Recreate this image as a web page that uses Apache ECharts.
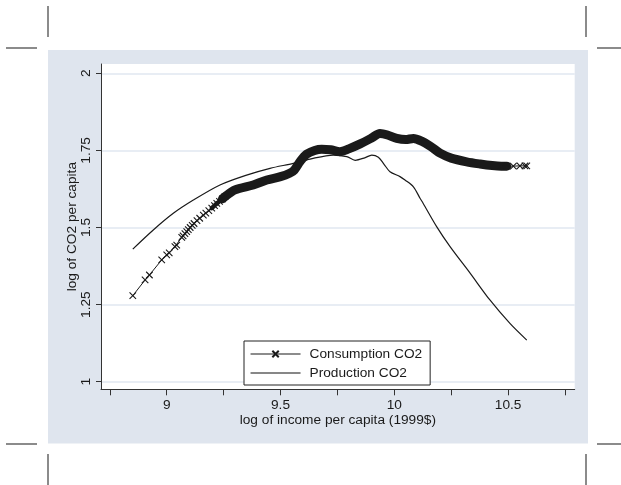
<!DOCTYPE html>
<html>
<head>
<meta charset="utf-8">
<script src="https://cdn.jsdelivr.net/npm/echarts@6/dist/echarts.min.js"></script>
<style>
html,body{margin:0;padding:0;background:#fff;}
#chart{width:621px;height:485px;}
</style>
</head>
<body>
<div id="chart"></div>
<script>
// ---- data ----
const seriesNames = ["Consumption CO2", "Production CO2"];

const consX = [8.851, 8.905, 8.924, 8.978, 9.000, 9.011, 9.036, 9.044, 9.066, 9.072, 9.080, 9.088,
  9.095, 9.103, 9.112, 9.120, 9.133, 9.145, 9.161, 9.172, 9.185, 9.198, 9.210, 9.220, 9.232, 9.245,
  9.256, 9.300, 9.380, 9.440, 9.500, 9.540, 9.560, 9.586, 9.615, 9.650, 9.681, 9.720, 9.761, 9.800,
  9.850, 9.900, 9.937, 9.970, 10.011, 10.050, 10.084, 10.120, 10.160, 10.201, 10.250, 10.318, 10.377,
  10.430, 10.470, 10.494, 10.523, 10.552, 10.574, 10.582];
const consY = [1.279, 1.330, 1.346, 1.395, 1.411, 1.418, 1.438, 1.443, 1.468, 1.473, 1.480, 1.487,
  1.493, 1.500, 1.507, 1.513, 1.522, 1.530, 1.540, 1.547, 1.555, 1.563, 1.571, 1.578, 1.585, 1.593,
  1.600, 1.622, 1.638, 1.654, 1.665, 1.676, 1.686, 1.714, 1.738, 1.750, 1.754, 1.752, 1.746, 1.755,
  1.771, 1.790, 1.805, 1.800, 1.789, 1.785, 1.789, 1.780, 1.763, 1.741, 1.725, 1.713, 1.706,
  1.701, 1.699, 1.699, 1.699, 1.700, 1.700, 1.700];

const prodX = [8.851, 8.941, 9.029, 9.117, 9.234, 9.351, 9.454, 9.556, 9.630, 9.732, 9.791, 9.828,
  9.870, 9.901, 9.930, 9.955, 9.981, 10.025, 10.047, 10.084, 10.113, 10.127, 10.186, 10.245, 10.333,
  10.420, 10.508, 10.582];
const prodY = [1.430, 1.492, 1.546, 1.589, 1.638, 1.670, 1.692, 1.708, 1.722, 1.735, 1.730, 1.718,
  1.726, 1.735, 1.728, 1.705, 1.681, 1.665, 1.654, 1.632, 1.595, 1.578, 1.503, 1.438, 1.352,
  1.265, 1.189, 1.135];

const xTicks = [8.75, 9, 9.25, 9.5, 9.75, 10, 10.25, 10.5, 10.75];
const xLabels = [9, 9.5, 10, 10.5];
const yTicks = [1, 1.25, 1.5, 1.75, 2];
const xTitle = "log of income per capita (1999$)";
const yTitle = "log of CO2 per capita";

// ---- build ----
const consPts = consX.map((x, i) => [x, consY[i]]);
const prodPts = prodX.map((x, i) => [x, prodY[i]]);
const sparsePts = consPts.filter(p => p[0] <= 9.26);
const midPts = consPts.filter(p => p[0] >= 9.198 && p[0] <= 9.30);
const densePts = consPts.filter(p => p[0] >= 9.245 && p[0] <= 10.50);
const tailPts = consPts.filter(p => p[0] >= 10.47);

const INK = '#1a1a1a';
const FONT = 'Liberation Sans, Arial, sans-serif';
const xMark = 'path://M0,0L10,10M10,0L0,10';
const plainLineIcon = 'path://M0,0L0.01,0L0.01,0.01Z M0,3.5L50,3.5L50,4.6L0,4.6Z M0,8L0.01,8L0.01,7.99Z';

const markerStyle = { color: INK, borderColor: INK, borderWidth: 1.1 };

function cropLine(x1, y1, x2, y2) {
  return { type: 'line', shape: { x1, y1, x2, y2 }, style: { stroke: '#6e6e6e', lineWidth: 1.6 }, silent: true };
}

const chart = echarts.init(document.getElementById('chart'), null, { renderer: 'canvas' });
chart.setOption({
  animation: false,
  backgroundColor: '#ffffff',
  graphic: [
    { type: 'rect', z: -10, shape: { x: 48, y: 50, width: 540, height: 393.5 }, style: { fill: '#dfe5ee' }, silent: true },
    cropLine(48, 6, 48, 37), cropLine(6, 48, 37, 48),
    cropLine(586, 6, 586, 37), cropLine(597, 48, 621, 48),
    cropLine(6, 444, 37, 444), cropLine(48, 454, 48, 485),
    cropLine(597, 444, 621, 444), cropLine(586, 454, 586, 485)
  ],
  grid: {
    left: 101, right: 46.3, top: 64, bottom: 95.7,
    show: true, backgroundColor: '#ffffff', borderWidth: 0
  },
  legend: {
    data: [
      { name: seriesNames[0], lineStyle: { width: 1.1, color: INK } },
      { name: seriesNames[1], icon: plainLineIcon, itemStyle: { color: '#111', borderWidth: 0 } }
    ],
    orient: 'vertical',
    left: 244, top: 341,
    backgroundColor: '#ffffff',
    borderColor: '#222', borderWidth: 1, borderRadius: 0,
    padding: [6, 8, 5, 6],
    itemWidth: 50, itemHeight: 8, itemGap: 5,
    textStyle: { fontFamily: FONT, fontSize: 13.7, color: INK, lineHeight: 14, padding: [0, 0, 0, 4] },
    selectedMode: false
  },
  xAxis: {
    type: 'value', min: 8.7113, max: 10.7926,
    name: xTitle, nameLocation: 'middle', nameGap: 24, nameMoveOverlap: false,
    nameTextStyle: { fontFamily: FONT, fontSize: 13.7, color: INK },
    axisLine: { show: true, onZero: false, lineStyle: { color: '#333', width: 1 } },
    axisTick: { show: true, inside: false, length: 6, customValues: xTicks, lineStyle: { color: '#333', width: 1 } },
    axisLabel: { customValues: xLabels, margin: 9, fontFamily: FONT, fontSize: 13.7, color: INK },
    splitLine: { show: false }
  },
  yAxis: {
    type: 'value', min: 0.9754, max: 2.0302,
    name: yTitle, nameLocation: 'middle', nameGap: 22, nameRotate: 90, nameMoveOverlap: false,
    nameTextStyle: { fontFamily: FONT, fontSize: 13.7, color: INK },
    axisLine: { show: true, onZero: false, lineStyle: { color: '#333', width: 1 } },
    axisTick: { show: true, inside: false, length: 5, customValues: yTicks, lineStyle: { color: '#333', width: 1 } },
    axisLabel: { customValues: yTicks, rotate: 90, margin: 8, fontFamily: FONT, fontSize: 13.7, color: INK },
    splitLine: { show: true, lineStyle: { color: '#e1e7f0', width: 1.6 } }
  },
  series: [
    {
      name: seriesNames[0], type: 'line', data: sparsePts,
      symbol: xMark, symbolSize: 6.5, showSymbol: true,
      lineStyle: { color: INK, width: 1 }, itemStyle: markerStyle, z: 3
    },
    {
      name: seriesNames[0], type: 'line', data: midPts, smooth: 0.3,
      symbol: 'none',
      lineStyle: { color: INK, width: 4.5, cap: 'round', join: 'round' }, itemStyle: markerStyle, z: 3
    },
    {
      name: seriesNames[0], type: 'line', data: densePts, smooth: 0.3,
      symbol: 'none',
      lineStyle: { color: INK, width: 9, cap: 'round', join: 'round' }, itemStyle: markerStyle, z: 3
    },
    {
      name: seriesNames[0], type: 'line', data: tailPts,
      symbol: xMark, symbolSize: 6.5, showSymbol: true,
      lineStyle: { color: INK, width: 1 }, itemStyle: markerStyle, z: 3
    },
    {
      name: seriesNames[1], type: 'line', data: prodPts, smooth: 0.3,
      symbol: 'none',
      lineStyle: { color: INK, width: 1.2 }, itemStyle: { color: INK }, z: 2
    }
  ]
});
</script>
</body>
</html>
